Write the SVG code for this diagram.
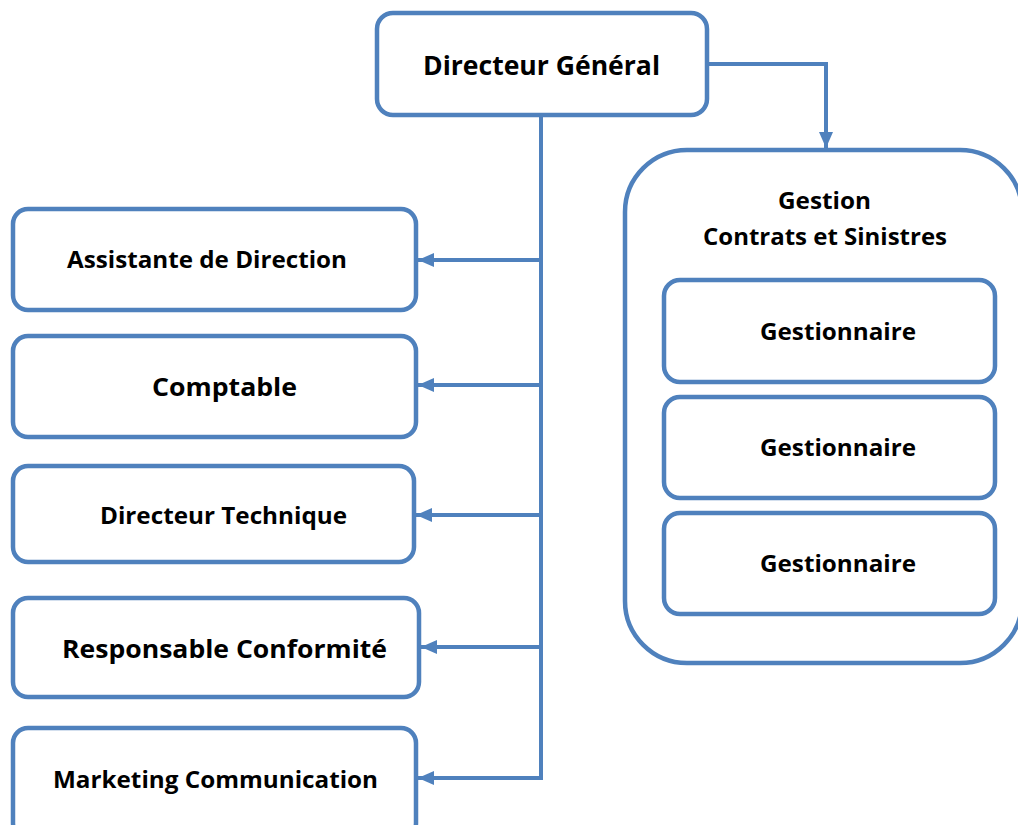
<svg xmlns="http://www.w3.org/2000/svg" width="1018" height="825" viewBox="0 0 1018 825">
  <style>
    .box { fill: #ffffff; stroke: #4F81BD; stroke-width: 4.5; }
    .link { fill: none; stroke: #4F81BD; stroke-width: 4; }
    .lbl { font-family: "Open Sans", "Liberation Sans", sans-serif; font-weight: 700; fill: #000000; text-anchor: start; }
  </style>
  <defs>
    <marker id="arrow" markerUnits="userSpaceOnUse" markerWidth="17" markerHeight="17" viewBox="0 0 17 17" refX="16" refY="8.5" orient="auto">
      <path d="M0,1.5 L16,8.5 L0,15.5 Z" fill="#4F81BD"/>
    </marker>
  </defs>

  <!-- connectors -->
  <g id="connectors">
    <polyline class="link" points="541,115 541,778"/>
    <polyline class="link" points="707,64 826,64 826,148" marker-end="url(#arrow)"/>
    <line class="link" x1="541" y1="260" x2="418" y2="260" marker-end="url(#arrow)"/>
    <line class="link" x1="541" y1="385" x2="418" y2="385" marker-end="url(#arrow)"/>
    <line class="link" x1="541" y1="515" x2="416" y2="515" marker-end="url(#arrow)"/>
    <line class="link" x1="541" y1="647" x2="421" y2="647" marker-end="url(#arrow)"/>
    <line class="link" x1="543" y1="778" x2="418" y2="778" marker-end="url(#arrow)"/>
  </g>

  <!-- top -->
  <g id="directeur-general">
    <rect class="box" x="377" y="13" width="330" height="102" rx="16"/>
    <text class="lbl" x="423" y="75" font-size="27.5" textLength="237" lengthAdjust="spacingAndGlyphs">Directeur Général</text>
  </g>

  <!-- left column -->
  <g id="assistante">
    <rect class="box" x="13" y="209" width="403" height="101" rx="15"/>
    <text class="lbl" x="67" y="268" font-size="23.5" textLength="280" lengthAdjust="spacingAndGlyphs">Assistante de Direction</text>
  </g>
  <g id="comptable">
    <rect class="box" x="13" y="336" width="403" height="101" rx="15"/>
    <text class="lbl" x="152" y="396" font-size="25.5" textLength="145" lengthAdjust="spacingAndGlyphs">Comptable</text>
  </g>
  <g id="directeur-technique">
    <rect class="box" x="13" y="466" width="401" height="96" rx="15"/>
    <text class="lbl" x="100" y="524" font-size="23" textLength="247" lengthAdjust="spacingAndGlyphs">Directeur Technique</text>
  </g>
  <g id="responsable-conformite">
    <rect class="box" x="13" y="598" width="406" height="99" rx="15"/>
    <text class="lbl" x="62" y="658" font-size="25.5" textLength="325" lengthAdjust="spacingAndGlyphs">Responsable Conformité</text>
  </g>
  <g id="marketing">
    <rect class="box" x="13" y="728" width="403" height="110" rx="15"/>
    <text class="lbl" x="53" y="788" font-size="23.5" textLength="325" lengthAdjust="spacingAndGlyphs">Marketing Communication</text>
  </g>

  <!-- right group -->
  <g id="gestion">
    <rect class="box" x="625" y="150" width="397" height="513" rx="62"/>
    <text class="lbl" x="778" y="209" font-size="23" textLength="93" lengthAdjust="spacingAndGlyphs">Gestion</text>
    <text class="lbl" x="703" y="245" font-size="23" textLength="244" lengthAdjust="spacingAndGlyphs">Contrats et Sinistres</text>
  </g>
  <g id="gestionnaire-1">
    <rect class="box" x="664" y="280" width="331" height="102" rx="16"/>
    <text class="lbl" x="760" y="340" font-size="23.5" textLength="156" lengthAdjust="spacingAndGlyphs">Gestionnaire</text>
  </g>
  <g id="gestionnaire-2">
    <rect class="box" x="664" y="397" width="331" height="101" rx="16"/>
    <text class="lbl" x="760" y="456" font-size="23.5" textLength="156" lengthAdjust="spacingAndGlyphs">Gestionnaire</text>
  </g>
  <g id="gestionnaire-3">
    <rect class="box" x="664" y="513" width="331" height="101" rx="16"/>
    <text class="lbl" x="760" y="572" font-size="23.5" textLength="156" lengthAdjust="spacingAndGlyphs">Gestionnaire</text>
  </g>
</svg>
